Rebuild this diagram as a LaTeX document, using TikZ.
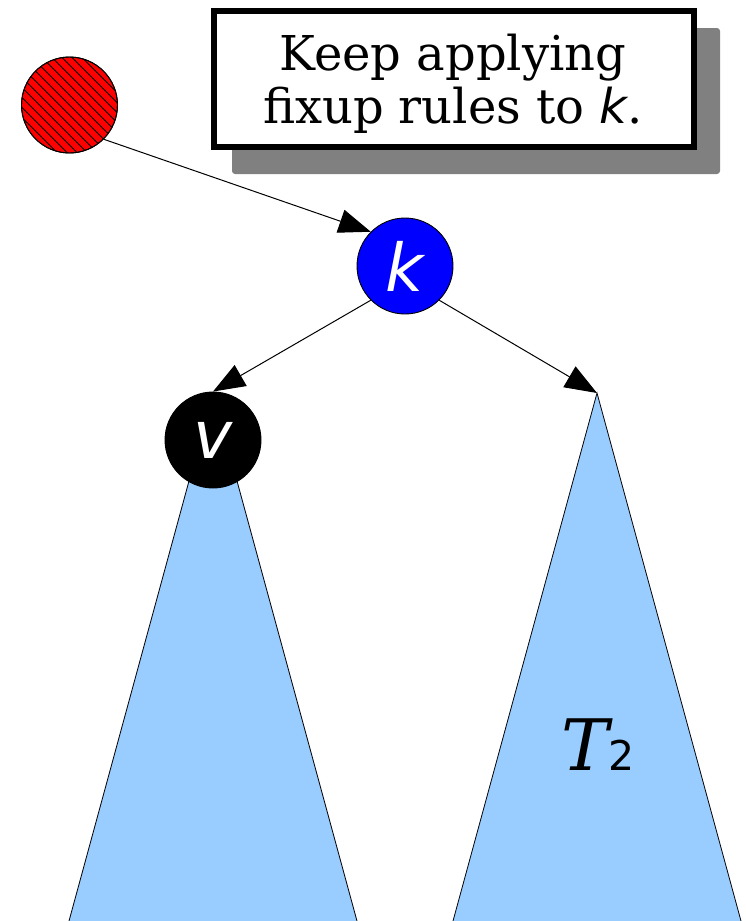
\documentclass[tikz,border=0pt]{standalone}
\usepackage{fontspec}
\setmainfont{DejaVu Serif}
\newfontfamily\dvsans{DejaVu Sans}
\usetikzlibrary{arrows.meta}
\definecolor{shadowgray}{RGB}{128,128,128}
\definecolor{treeblue}{RGB}{153,204,255}
\begin{document}
\begin{tikzpicture}[x=1pt,y=-1pt,
  treefill/.style={fill=treeblue},
  treeedge/.style={draw=black, line width=0.8pt, line join=miter},
  vert/.style={circle, draw=black, line width=0.9pt, minimum size=96pt, inner sep=0pt},
  vlabel/.style={text=white, font=\dvsans\itshape\fontsize{66}{66}\selectfont},
  conn/.style={line width=1pt, -{Triangle[length=32pt,width=24pt]}},
  notefont/.style={font=\fontsize{48}{55}\selectfont}
]
\useasboundingbox (0,0) rectangle (746,921);
% subtrees
\coordinate (t1top) at (213,393);
\coordinate (t1l) at (69,921);
\coordinate (t1r) at (357,921);
\coordinate (t2top) at (597,393);
\coordinate (t2l) at (453,921);
\coordinate (t2r) at (741,921);
\fill[treefill] (t1top) -- (t1l) -- (t1r) -- cycle;
\draw[treeedge] (t1l) -- (t1top) -- (t1r);
\fill[treefill] (t2top) -- (t2l) -- (t2r) -- cycle;
\draw[treeedge] (t2l) -- (t2top) -- (t2r);
\node[anchor=base west, inner sep=0pt, font=\itshape\fontsize{71}{71}\selectfont] (T) at (561,770) {T};
\node[anchor=base west, inner sep=0pt, font=\dvsans\fontsize{41}{41}\selectfont] (two) at (T.base east) {2};
% note box with shadow
\fill[shadowgray, rounded corners=3pt] (232,28) rectangle (720,174);
\node[draw=black, line width=6pt, fill=white, minimum width=480pt, minimum height=136pt, inner sep=0pt] (note) at (454,79) {};
\node[notefont, anchor=base, inner sep=0pt] (line1) at (453,70) {Keep applying};
\node[notefont, anchor=base, inner sep=0pt] (line2) at (453,123) {fixup rules to {\dvsans\itshape k}.};
% vertices
\node[vert, fill=red] (r) at (69.5,105) {};
\begin{scope}
  \clip (r.center) circle[radius=48];
  \foreach \h in {-130,-120,...,130}
    \draw[line width=0.9pt] ([xshift=\h pt-60pt, yshift=60pt]r.center) -- ([xshift=\h pt+60pt, yshift=-60pt]r.center);
\end{scope}
\draw[line width=0.9pt] (r.center) circle[radius=48];
\node[vert, fill=blue, vlabel] (k) at (405,266) {k};
\node[vert, fill=black, vlabel] (v) at (213,440) {v};
% connectors
\draw[conn] (r.-45) -- (k.135);
\draw[conn] (k.-135) -- (v.90);
\draw[conn] (k.-45) -- (t2top);
\end{tikzpicture}
\end{document}
